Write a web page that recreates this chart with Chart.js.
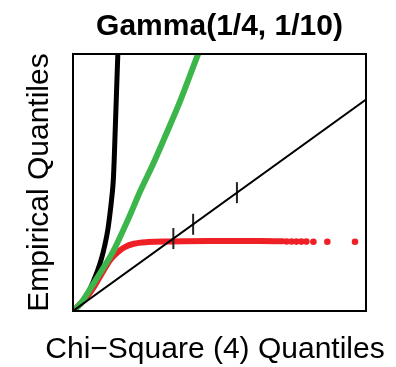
<!DOCTYPE html>
<html>
<head>
<meta charset="utf-8">
<script src="https://cdn.jsdelivr.net/npm/chart.js@4"></script>
<style>
  html, body { margin: 0; padding: 0; background: #fff; }
  #c { display: block; }
</style>
</head>
<body>
<canvas id="c" width="396" height="367"></canvas>
<script>
// ---- data ----
const titleText = "Gamma(1/4, 1/10)";
const xLabel = "Chi\u2212Square (4) Quantiles";
const yLabel = "Empirical Quantiles";

const xMax = 20;
const yMax = 24.3;

// reference line y = x
const refX = [0, 20];
const refY = [0, 20];

// short vertical marks on the reference line
const markX = [6.85, 8.2, 11.19];
const markY = [6.85, 8.2, 11.19];

// black curve
const blackX = [0, 0.54, 1.02, 1.42, 1.69, 1.97, 2.17, 2.37, 2.51, 2.64, 2.75, 2.81, 2.88, 2.95, 3.02, 3.08];
const blackY = [0, 0.66, 1.69, 2.92, 3.86, 5.08, 6.21, 7.63, 9.04, 10.64, 12.34, 14.22, 17.04, 19.87, 22.69, 25.05];

// green curve
const greenX = [0, 0.54, 1.42, 2.10, 2.78, 3.73, 4.61, 5.42, 6.31, 7.32, 8.54, 8.75];
const greenY = [0, 0.75, 2.64, 4.14, 5.74, 8.57, 11.39, 13.75, 16.57, 19.87, 24.29, 25.0];

// red curve (dense part) and its sparse tail points
const redX = [0, 0.41, 0.88, 1.42, 2.10, 2.58, 3.05, 3.46, 4.14, 5.08, 6.64, 9.36, 12.75, 14.31];
const redY = [0, 0.56, 1.22, 2.26, 3.86, 4.90, 5.56, 5.98, 6.36, 6.52, 6.57, 6.61, 6.61, 6.60];
const redTailX = [14.58, 14.92, 15.25, 15.59, 15.93, 16.41, 17.36, 19.25];
const redTailY = [6.57, 6.57, 6.56, 6.56, 6.56, 6.55, 6.55, 6.55];

const pts = (xs, ys) => xs.map((x, i) => ({ x: x, y: ys[i] }));

const FONT = "'Liberation Sans', Arial, Helvetica, sans-serif";
const RED = '#EE2026';
const GREEN = '#3CB54A';

const boxPlugin = {
  id: 'box',
  afterDatasetsDraw(chart) {
    const { ctx, chartArea: a } = chart;
    ctx.save();
    ctx.strokeStyle = '#000';
    ctx.lineWidth = 2;
    ctx.strokeRect(a.left, a.top, a.right - a.left, a.bottom - a.top);
    ctx.restore();
  }
};

// x-axis label drawn without Chart.js's maxWidth squeezing (it is wider than the plot)
const xLabelPlugin = {
  id: 'xLabel',
  afterDraw(chart) {
    const { ctx } = chart;
    ctx.save();
    ctx.fillStyle = '#000';
    ctx.font = "30px " + FONT;
    ctx.textAlign = 'center';
    ctx.textBaseline = 'middle';
    ctx.fillText(xLabel, 215, 350);
    ctx.restore();
  }
};

new Chart(document.getElementById('c'), {
  type: 'scatter',
  data: {
    datasets: [
      {
        label: 'reference',
        data: pts(refX, refY),
        showLine: true,
        borderColor: '#000',
        borderWidth: 2,
        pointRadius: 0,
        clip: 0,
        order: 0
      },
      {
        label: 'marks',
        data: pts(markX, markY),
        showLine: false,
        pointStyle: 'line',
        rotation: 90,
        pointRadius: 10.5,
        borderColor: '#222',
        borderWidth: 2,
        clip: 0,
        order: 0
      },
      {
        label: 'green',
        data: pts(greenX, greenY),
        showLine: true,
        borderColor: GREEN,
        borderWidth: 6,
        borderCapStyle: 'round',
        borderJoinStyle: 'round',
        cubicInterpolationMode: 'monotone',
        pointRadius: 0,
        clip: 0,
        order: 1
      },
      {
        label: 'red',
        data: pts(redX, redY),
        showLine: true,
        borderColor: RED,
        borderWidth: 6,
        borderCapStyle: 'round',
        borderJoinStyle: 'round',
        cubicInterpolationMode: 'monotone',
        pointRadius: 0,
        clip: 0,
        order: 2
      },
      {
        label: 'red tail',
        data: pts(redTailX, redTailY),
        showLine: false,
        pointRadius: 3.3,
        backgroundColor: RED,
        borderWidth: 0,
        clip: 0,
        order: 2
      },
      {
        label: 'black',
        data: pts(blackX, blackY),
        showLine: true,
        borderColor: '#000',
        borderWidth: 5,
        borderCapStyle: 'round',
        borderJoinStyle: 'round',
        cubicInterpolationMode: 'monotone',
        pointRadius: 0,
        clip: 0,
        order: 3
      }
    ]
  },
  options: {
    responsive: false,
    animation: false,
    devicePixelRatio: 1,
    layout: { padding: { left: 0, right: 30, top: 0, bottom: 0 } },
    plugins: {
      legend: { display: false },
      tooltip: { enabled: false },
      title: {
        display: true,
        text: titleText,
        fullSize: false,
        color: '#000',
        font: { family: FONT, size: 30, weight: 'bold', lineHeight: 1.2 },
        padding: { top: 8.5, bottom: 9.5 }
      }
    },
    scales: {
      x: {
        type: 'linear',
        min: 0,
        max: xMax,
        grid: { display: false },
        border: { display: false },
        ticks: { display: false },
        title: { display: false, text: xLabel },
        afterFit(scale) { scale.height = 56; }
      },
      y: {
        type: 'linear',
        min: 0,
        max: yMax,
        grid: { display: false },
        border: { display: false },
        ticks: { display: false },
        title: {
          display: true,
          text: yLabel,
          color: '#000',
          font: { family: FONT, size: 30, lineHeight: 1.2 },
          padding: { top: 21.3, bottom: 0 }
        },
        afterFit(scale) { scale.width = 73; }
      }
    }
  },
  plugins: [boxPlugin, xLabelPlugin]
});
</script>
</body>
</html>
